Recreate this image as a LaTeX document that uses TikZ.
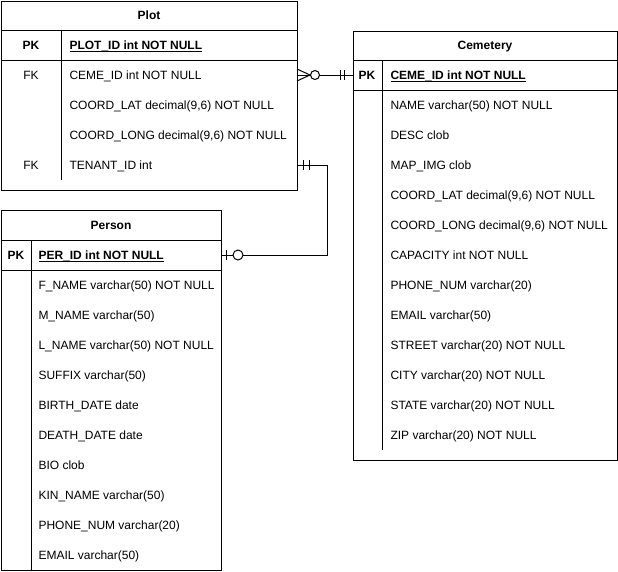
\documentclass[tikz,border=0pt]{standalone}
\usepackage{fontspec}
\setmainfont{Liberation Sans}
\newcommand\erfont{\fontsize{12}{14}\selectfont}
\begin{document}
\begin{tikzpicture}[x=1pt,y=-1pt,line width=1pt,
  entity/.style={draw,inner sep=0pt,outer sep=0pt,anchor=north west},
  title/.style={inner sep=0pt,text height=8.6pt,text depth=0pt,font=\erfont\bfseries},
  keytag/.style={inner sep=0pt,text height=8.6pt,text depth=0pt,font=\erfont},
  field/.style={anchor=west,inner sep=0pt,text height=8.6pt,text depth=0pt,font=\erfont},
  pkfield/.style={field,font=\erfont\bfseries},
]
\useasboundingbox (0,0) rectangle (618,571);
% Plot
\node [entity,minimum width=296,minimum height=189] (plot) at (1,1) {};
\draw (1,30) -- (297,30);
\draw (1,60) -- (297,60);
\draw (61,30) -- (61,180);
\node [title] (plottitle) at (149,15.5) {Plot};
\node [keytag,font=\erfont\bfseries] (plotpk) at (31,45) {PK};
\node [pkfield] (plotid) at (69,45) {\underline{\smash{PLOT\_ID int NOT NULL}}};
\node [keytag] (plotfk1) at (31,75) {FK};
\node [field] (plotceme) at (69,75) {CEME\_ID int NOT NULL};
\node [field] (plotlat) at (69,105) {COORD\_LAT decimal(9,6) NOT NULL};
\node [field] (plotlong) at (69,135) {COORD\_LONG decimal(9,6) NOT NULL};
\node [keytag] (plotfk2) at (31,165) {FK};
\node [field] (plottenant) at (69,165) {TENANT\_ID int};
% Cemetery
\node [entity,minimum width=264,minimum height=429] (ceme) at (353,31) {};
\draw (353,60) -- (617,60);
\draw (353,90) -- (617,90);
\draw (382,60) -- (382,450);
\node [title] (cemetitle) at (485,45.5) {Cemetery};
\node [keytag,font=\erfont\bfseries] (cemepk) at (367,75) {PK};
\node [pkfield] (cemeid) at (390,75) {\underline{\smash{CEME\_ID int NOT NULL}}};
\node [field] (cemename) at (390,105) {NAME varchar(50) NOT NULL};
\node [field] (cemedesc) at (390,135) {DESC clob};
\node [field] (cememap) at (390,165) {MAP\_IMG clob};
\node [field] (cemelat) at (390,195) {COORD\_LAT decimal(9,6) NOT NULL};
\node [field] (cemelong) at (390,225) {COORD\_LONG decimal(9,6) NOT NULL};
\node [field] (cemecap) at (390,255) {CAPACITY int NOT NULL};
\node [field] (cemephone) at (390,285) {PHONE\_NUM varchar(20)};
\node [field] (cemeemail) at (390,315) {EMAIL varchar(50)};
\node [field] (cemestreet) at (390,345) {STREET varchar(20) NOT NULL};
\node [field] (cemecity) at (390,375) {CITY varchar(20) NOT NULL};
\node [field] (cemestate) at (390,405) {STATE varchar(20) NOT NULL};
\node [field] (cemezip) at (390,435) {ZIP varchar(20) NOT NULL};
% Person
\node [entity,minimum width=220,minimum height=360] (person) at (1,210) {};
\draw (1,240) -- (221,240);
\draw (1,270) -- (221,270);
\draw (31,240) -- (31,570);
\node [title] (pertitle) at (111,225) {Person};
\node [keytag,font=\erfont\bfseries] (perpk) at (16,255) {PK};
\node [pkfield] (perid) at (38,255) {\underline{\smash{PER\_ID int NOT NULL}}};
\node [field] (perfname) at (38,285) {F\_NAME varchar(50) NOT NULL};
\node [field] (permname) at (38,315) {M\_NAME varchar(50)};
\node [field] (perlname) at (38,345) {L\_NAME varchar(50) NOT NULL};
\node [field] (persuffix) at (38,375) {SUFFIX varchar(50)};
\node [field] (perbirth) at (38,405) {BIRTH\_DATE date};
\node [field] (perdeath) at (38,435) {DEATH\_DATE date};
\node [field] (perbio) at (38,465) {BIO clob};
\node [field] (perkin) at (38,495) {KIN\_NAME varchar(50)};
\node [field] (perphone) at (38,525) {PHONE\_NUM varchar(20)};
\node [field] (peremail) at (38,555) {EMAIL varchar(50)};
% Plot - Cemetery (zero or many / one and only one)
\draw (plotceme -| plot.east) -- (cemeid -| ceme.west);
\draw (plotceme -| plot.east) ++(0,-6) -- ++(13,6) -- ++(-13,6);
\draw [fill=white] (plotceme -| plot.east) ++(18,0) circle [radius=4.5];
\draw (cemeid -| ceme.west) ++(-13,-5) -- ++(0,10);
\draw (cemeid -| ceme.west) ++(-9,-5) -- ++(0,10);
% Plot - Person (one and only one / zero or one)
\draw (plottenant -| plot.east) -- ++(30,0) |- (perid -| person.east);
\draw (plottenant -| plot.east) ++(6,-5) -- ++(0,10);
\draw (plottenant -| plot.east) ++(12,-5) -- ++(0,10);
\draw (perid -| person.east) ++(5,-5) -- ++(0,10);
\draw [fill=white] (perid -| person.east) ++(17,0) circle [radius=5];
\end{tikzpicture}
\end{document}
